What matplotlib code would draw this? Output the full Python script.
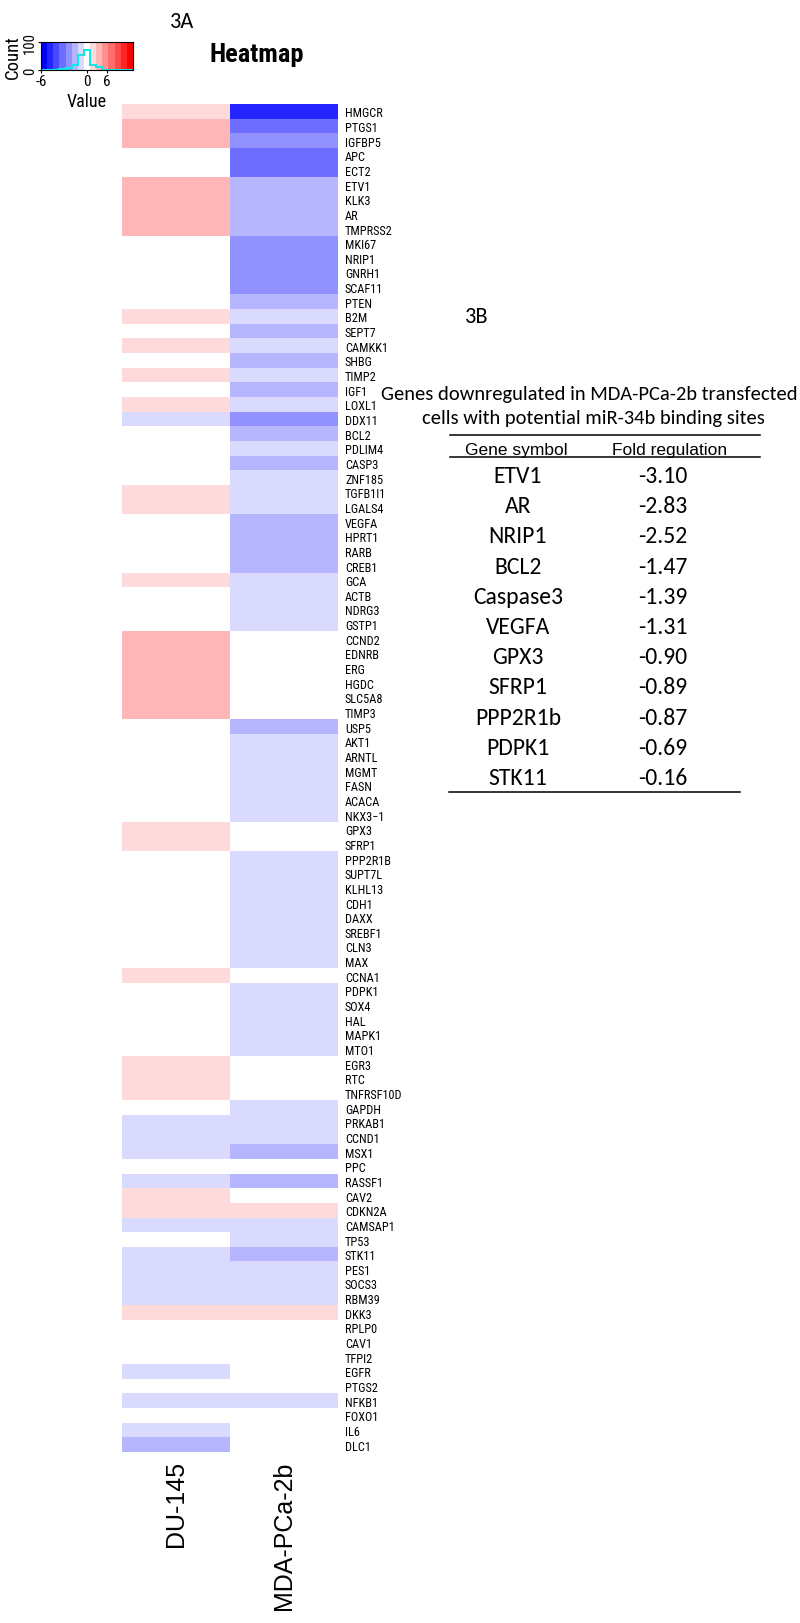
import numpy as np
import matplotlib
matplotlib.use("Agg")
import matplotlib.pyplot as plt
from matplotlib.colors import ListedColormap, BoundaryNorm

# heatmap rows (top to bottom), values are colour levels (-7..7)
genes = ["HMGCR", "PTGS1", "IGFBP5", "APC", "ECT2", "ETV1", "KLK3", "AR", "TMPRSS2",
         "MKI67", "NRIP1", "GNRH1", "SCAF11", "PTEN", "B2M", "SEPT7", "CAMKK1", "SHBG",
         "TIMP2", "IGF1", "LOXL1", "DDX11", "BCL2", "PDLIM4", "CASP3", "ZNF185",
         "TGFB1I1", "LGALS4", "VEGFA", "HPRT1", "RARB", "CREB1", "GCA", "ACTB", "NDRG3",
         "GSTP1", "CCND2", "EDNRB", "ERG", "HGDC", "SLC5A8", "TIMP3", "USP5", "AKT1",
         "ARNTL", "MGMT", "FASN", "ACACA", "NKX3\u22121", "GPX3", "SFRP1", "PPP2R1B",
         "SUPT7L", "KLHL13", "CDH1", "DAXX", "SREBF1", "CLN3", "MAX", "CCNA1", "PDPK1",
         "SOX4", "HAL", "MAPK1", "MTO1", "EGR3", "RTC", "TNFRSF10D", "GAPDH", "PRKAB1",
         "CCND1", "MSX1", "PPC", "RASSF1", "CAV2", "CDKN2A", "CAMSAP1", "TP53", "STK11",
         "PES1", "SOCS3", "RBM39", "DKK3", "RPLP0", "CAV1", "TFPI2", "EGFR", "PTGS2",
         "NFKB1", "FOXO1", "IL6", "DLC1"]

du145 = [1, 2, 2, 0, 0, 2, 2, 2, 2, 0, 0, 0, 0, 0, 1, 0, 1, 0, 1, 0, 1, -1, 0, 0, 0, 0,
         1, 1, 0, 0, 0, 0, 1, 0, 0, 0, 2, 2, 2, 2, 2, 2, 0, 0, 0, 0, 0, 0, 0, 1, 1, 0,
         0, 0, 0, 0, 0, 0, 0, 1, 0, 0, 0, 0, 0, 1, 1, 1, 0, -1, -1, -1, 0, -1, 1, 1,
         -1, 0, -1, -1, -1, -1, 1, 0, 0, 0, -1, 0, -1, 0, -1, -2]

mda = [-6, -4, -3, -4, -4, -2, -2, -2, -2, -3, -3, -3, -3, -2, -1, -2, -1, -2, -1, -2,
       -1, -3, -2, -1, -2, -1, -1, -1, -2, -2, -2, -2, -1, -1, -1, -1, 0, 0, 0, 0, 0,
       0, -2, -1, -1, -1, -1, -1, -1, 0, 0, -1, -1, -1, -1, -1, -1, -1, -1, 0, -1, -1,
       -1, -1, -1, 0, 0, 0, -1, -1, -1, -2, 0, -2, 0, 1, -1, -1, -2, -1, -1, -1, 1, 0,
       0, 0, 0, 0, -1, 0, 0, 0]

cell_lines = ["DU-145", "MDA-PCa-2b"]

# table 3B
table_genes = ["ETV1", "AR", "NRIP1", "BCL2", "Caspase3", "VEGFA", "GPX3", "SFRP1",
               "PPP2R1b", "PDPK1", "STK11"]
table_fold = ["-3.10", "-2.83", "-2.52", "-1.47", "-1.39", "-1.31", "-0.90", "-0.89",
              "-0.87", "-0.69", "-0.16"]

levels = np.arange(-7, 8)
colors = []
for k in levels:
    f = 1 - abs(k) / 7
    colors.append((f, f, 1) if k < 0 else (1, f, f))
cmap = ListedColormap(colors)
edges = np.arange(-7.5, 8.5, 1)
norm = BoundaryNorm(edges, cmap.N)

narrow = ["Roboto Condensed", "Liberation Sans"]
calibri = ["Carlito", "Lato"]

fig = plt.figure(figsize=(8, 16.24), dpi=100)
W, H = 800, 1624

# heatmap
ax = fig.add_axes([122 / W, 1 - 1453 / H, 216 / W, 1348 / H])
data = np.column_stack([du145, mda])
ax.imshow(data, cmap=cmap, norm=norm, aspect="auto", interpolation="nearest")
ax.yaxis.tick_right()
ax.set_yticks(range(len(genes)))
ax.set_yticklabels(genes, family=narrow, fontsize=8.8)
ax.set_xticks(range(len(cell_lines)))
ax.set_xticklabels(cell_lines, rotation=90, va="top", family="Liberation Sans", fontsize=18)
ax.tick_params(length=0)
ax.tick_params(axis="y", pad=5)
ax.tick_params(axis="x", pad=6)
for s in ax.spines.values():
    s.set_visible(False)

# colour key with histogram
kax = fig.add_axes([41 / W, 1 - 71 / H, 92 / W, 28 / H])
kax.imshow(levels[np.newaxis, :], cmap=cmap, norm=norm, aspect="auto",
           extent=(-7.5, 7.5, 0, 100), interpolation="nearest")
counts, _ = np.histogram(np.concatenate([du145, mda]), bins=edges)
kax.stairs(counts, edges, color="#10e8e8", lw=1.5)
kax.set_xlim(-7.5, 7.5)
kax.set_ylim(0, 100)
kax.set_xticks([-7.5, 0, 3.3])
kax.set_xticklabels(["-6", "0", "6"], family=narrow, fontsize=11)
kax.set_yticks([0, 100])
kax.set_yticklabels(["0", "100"], family=narrow, fontsize=10.5, rotation=90, va="center")
kax.tick_params(length=2, pad=1)
kax.set_xlabel("Value", family=narrow, fontsize=13, labelpad=3)
kax.set_ylabel("Count", family=narrow, fontsize=13.5, labelpad=1)
for s in kax.spines.values():
    s.set_linewidth(0.8)

# text overlay in pixel coordinates
ov = fig.add_axes([0, 0, 1, 1])
ov.set_xlim(0, W)
ov.set_ylim(H, 0)
ov.axis("off")

ov.text(182, 28, "3A", ha="center", va="baseline", family=calibri, fontsize=16)
ov.text(257, 62, "Heatmap", ha="center", va="baseline", family=narrow,
        fontsize=19, fontweight="bold")
ov.text(477, 323, "3B", ha="center", va="baseline", family=calibri, fontsize=16)
ov.text(589, 400, "Genes downregulated in MDA-PCa-2b transfected", ha="center",
        va="baseline", family=calibri, fontsize=14.8)
ov.text(593, 424, "cells with potential miR-34b binding sites", ha="center",
        va="baseline", family=calibri, fontsize=14.8)

ov.plot([450, 760], [436, 436], color="black", lw=1.1)
ov.plot([450, 760], [458, 458], color="black", lw=1.1)
ov.plot([449, 740], [793, 793], color="black", lw=1.1)
ov.text(516, 455, "Gene symbol", ha="center", va="baseline", family="Liberation Sans",
        fontsize=12.5)
ov.text(670, 455, "Fold regulation", ha="center", va="baseline", family="Liberation Sans",
        fontsize=12.5)
for i, (g, v) in enumerate(zip(table_genes, table_fold)):
    y = 483 + i * 30.2
    ov.text(518, y, g, ha="center", va="baseline", family=calibri, fontsize=17)
    ov.text(663, y, v, ha="center", va="baseline", family=calibri, fontsize=17)

fig.savefig("out.png", dpi=100)
